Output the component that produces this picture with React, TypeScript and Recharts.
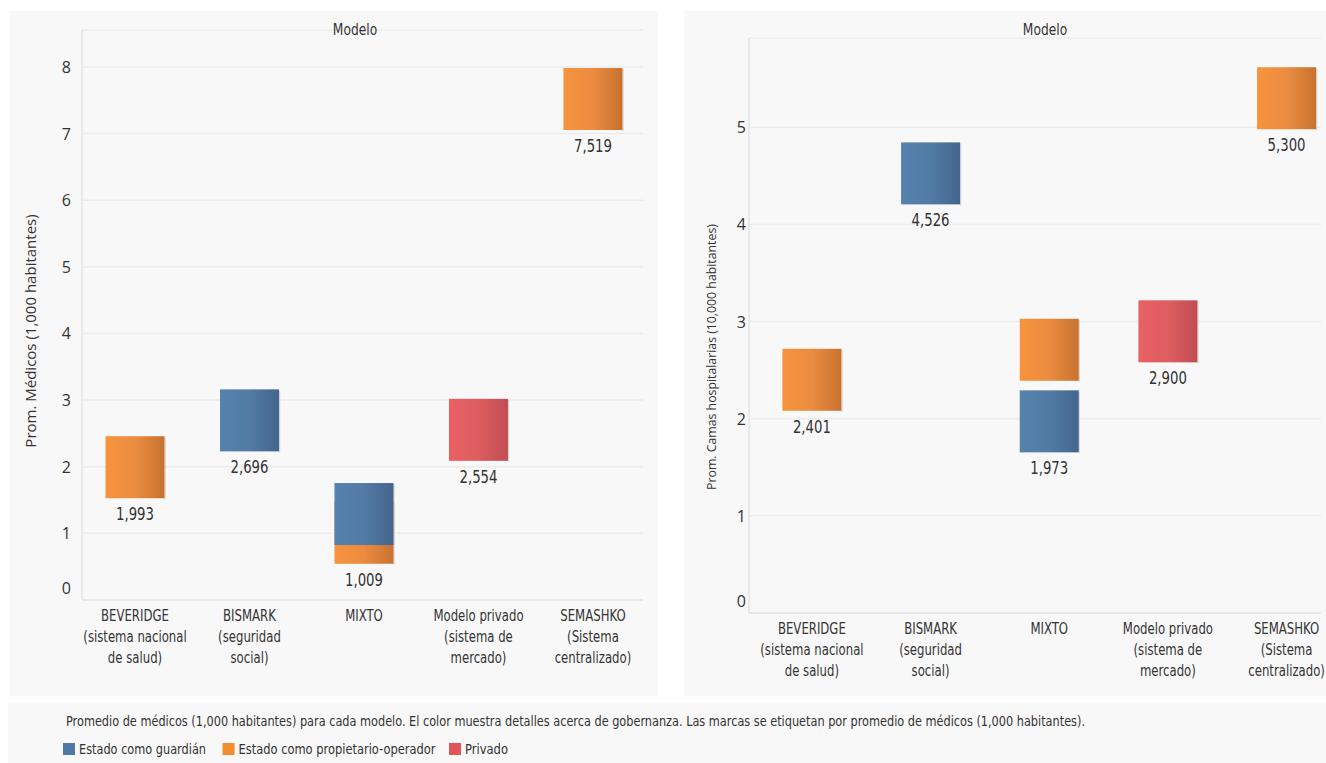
import React from "react";
import { ScatterChart, Scatter, XAxis, YAxis, CartesianGrid } from "recharts";

// categorías (líneas de cada etiqueta del eje X)
const categories = [
  ["BEVERIDGE", "(sistema nacional", "de salud)"],
  ["BISMARK", "(seguridad", "social)"],
  ["MIXTO"],
  ["Modelo privado", "(sistema de", "mercado)"],
  ["SEMASHKO", "(Sistema", "centralizado)"],
];

const seriesNames = ["Estado como guardián", "Estado como propietario-operador", "Privado"];
const seriesColors = ["#4E79A7", "#F28E2B", "#E15759"];

// Prom. Médicos (1,000 habitantes)
const medicosGuardian = [null, 2.696, 1.29, null, null];
const medicosOperador = [1.993, null, 1.009, null, 7.519];
const medicosPrivado = [null, null, null, 2.554, null];
const medicosTicks = [0, 1, 2, 3, 4, 5, 6, 7, 8];

// Prom. Camas hospitalarias (10,000 habitantes)
const camasGuardian = [null, 4.526, 1.973, null, null];
const camasOperador = [2.401, null, 2.71, null, 5.3];
const camasPrivado = [null, null, null, 2.9, null];
const camasTicks = [0, 1, 2, 3, 4, 5];

const NARROW = "'Liberation Sans Narrow', 'DejaVu Sans Condensed', 'Roboto Condensed', sans-serif";
const SANS = "'Open Sans', 'Noto Sans', sans-serif";
const TEXT = "#333333";
const BAR_W = 59;
const BAR_H = 62;

type Values = (number | null)[];
type Pt = { x: number; y: number; label: boolean };

// squeeze text horizontally around its anchor x
const squeeze = (x: number, s: number) => `translate(${x} 0) scale(${s} 1) translate(${-x} 0)`;

// solo la marca más baja de cada categoría lleva etiqueta
function buildPoints(values: Values, all: Values[]): Pt[] {
  const pts: Pt[] = [];
  values.forEach((v, i) => {
    if (v == null) return;
    const lowest = Math.min(...all.map((s) => (s[i] == null ? Infinity : (s[i] as number))));
    pts.push({ x: i, y: v, label: v === lowest });
  });
  return pts;
}

const fmt = (v: number) => v.toFixed(3).replace(".", ",");

const makeShape = (gradId: string) => (props: any) => {
  const { cx, cy, payload } = props;
  if (cx == null || cy == null) return <g />;
  const x0 = cx - BAR_W / 2;
  const y0 = cy - BAR_H / 2;
  return (
    <g>
      <rect x={x0 + BAR_W} y={y0 + 1} width={1.2} height={BAR_H} fill="#d4d4d4" />
      <rect x={x0} y={y0} width={BAR_W} height={BAR_H} fill={`url(#${gradId})`} />
      {payload.label && (
        <text
          x={cx}
          y={cy + 47}
          transform={squeeze(cx, 0.82)}
          textAnchor="middle"
          dominantBaseline="central"
          fontFamily={NARROW}
          fontSize={18}
          fill={TEXT}
        >
          {fmt(payload.y)}
        </text>
      )}
    </g>
  );
};

const XTick = (props: any) => {
  const { x, y, payload } = props;
  const lines = categories[payload.value] || [];
  return (
    <g transform={squeeze(x, 0.84)}>
      {lines.map((l, i) => (
        <text
          key={i}
          x={x}
          y={y + 16 + i * 21}
          textAnchor="middle"
          dominantBaseline="central"
          fontFamily={NARROW}
          fontSize={15.5}
          fill={TEXT}
        >
          {l}
        </text>
      ))}
    </g>
  );
};

const makeYTick = (gap: number, fontSize: number) => (props: any) => {
  const { x, y, payload } = props;
  const lift = payload.value === 0 ? -12 : 0;
  return (
    <text
      x={x - gap}
      y={y + lift}
      textAnchor="end"
      dominantBaseline="central"
      fontFamily={SANS}
      fontSize={fontSize}
      fill={TEXT}
    >
      {payload.value}
    </text>
  );
};

type PanelProps = {
  left: number;
  width: number;
  margin: { top: number; right: number; bottom: number; left: number };
  yAxisWidth: number;
  xAxisHeight: number;
  xDomain: [number, number];
  yDomain: [number, number];
  yTicks: number[];
  tickGap: number;
  tickFont: number;
  guardian: Values;
  operador: Values;
  privado: Values;
  yTitle: string;
  yTitleX: number;
  yTitleY: number;
  yTitleFont: number;
  headerX: number;
};

function Panel(p: PanelProps) {
  const all = [p.guardian, p.operador, p.privado];
  const height = 685;
  return (
    <div style={{ position: "absolute", left: p.left, top: 11, width: p.width, height, background: "#f8f8f8", overflow: "hidden" }}>
      <ScatterChart width={p.width} height={height} margin={p.margin}>
        <CartesianGrid vertical={false} stroke="#ececec" strokeWidth={1.5} />
        <XAxis
          type="number"
          dataKey="x"
          domain={p.xDomain}
          ticks={[0, 1, 2, 3, 4]}
          interval={0}
          allowDataOverflow
          height={p.xAxisHeight}
          tickSize={0}
          tickMargin={0}
          tickLine={false}
          axisLine={{ stroke: "#e4e4e4", strokeWidth: 1.5 }}
          tick={XTick}
        />
        <YAxis
          type="number"
          dataKey="y"
          domain={p.yDomain}
          ticks={p.yTicks}
          interval={0}
          allowDataOverflow
          width={p.yAxisWidth}
          tickSize={0}
          tickMargin={0}
          tickLine={false}
          axisLine={{ stroke: "#e4e4e4", strokeWidth: 1.5 }}
          tick={makeYTick(p.tickGap, p.tickFont)}
        />
        <Scatter data={buildPoints(p.operador, all)} shape={makeShape("gOrange")} isAnimationActive={false} />
        <Scatter data={buildPoints(p.guardian, all)} shape={makeShape("gBlue")} isAnimationActive={false} />
        <Scatter data={buildPoints(p.privado, all)} shape={makeShape("gRed")} isAnimationActive={false} />
      </ScatterChart>
      <svg width={p.width} height={height} style={{ position: "absolute", left: 0, top: 0, pointerEvents: "none" }}>
        <text
          x={p.headerX}
          y={18}
          transform={squeeze(p.headerX, 0.88)}
          textAnchor="middle"
          dominantBaseline="central"
          fontFamily={NARROW}
          fontSize={15.5}
          fill={TEXT}
        >
          Modelo
        </text>
        <text
          x={p.yTitleX}
          y={p.yTitleY}
          transform={`rotate(-90 ${p.yTitleX} ${p.yTitleY})`}
          textAnchor="middle"
          dominantBaseline="central"
          fontFamily={SANS}
          fontSize={p.yTitleFont}
          fill={TEXT}
        >
          {p.yTitle}
        </text>
      </svg>
    </div>
  );
}

export default function App() {
  const legendX = [55, 214.5, 441];
  const legendLen = [127, 197, 43];
  return (
    <div style={{ position: "absolute", left: 0, top: 0, width: 1326, height: 763, background: "#ffffff", overflow: "hidden" }}>
      <svg width={0} height={0} style={{ position: "absolute" }}>
        <defs>
          <linearGradient id="gOrange" x1="0" y1="0" x2="1" y2="0">
            <stop offset="0%" stopColor="#F7933D" />
            <stop offset="50%" stopColor="#EB8C41" />
            <stop offset="100%" stopColor="#C8722F" />
          </linearGradient>
          <linearGradient id="gBlue" x1="0" y1="0" x2="1" y2="0">
            <stop offset="0%" stopColor="#5482AE" />
            <stop offset="50%" stopColor="#527BA4" />
            <stop offset="100%" stopColor="#43658D" />
          </linearGradient>
          <linearGradient id="gRed" x1="0" y1="0" x2="1" y2="0">
            <stop offset="0%" stopColor="#E96163" />
            <stop offset="50%" stopColor="#DD5D60" />
            <stop offset="100%" stopColor="#C14D54" />
          </linearGradient>
        </defs>
      </svg>

      <Panel
        left={10}
        width={648}
        margin={{ top: 19, right: 15, bottom: 0, left: 0 }}
        yAxisWidth={72}
        xAxisHeight={96}
        xDomain={[-0.463, 4.437]}
        yDomain={[0, 8.555]}
        yTicks={medicosTicks}
        tickGap={11}
        tickFont={16}
        guardian={medicosGuardian}
        operador={medicosOperador}
        privado={medicosPrivado}
        yTitle="Prom. Médicos (1,000 habitantes)"
        yTitleX={20}
        yTitleY={320}
        yTitleFont={15}
        headerX={345}
      />

      <Panel
        left={684}
        width={642}
        margin={{ top: 27, right: 5, bottom: 0, left: 0 }}
        yAxisWidth={65}
        xAxisHeight={83}
        xDomain={[-0.53, 4.29]}
        yDomain={[0, 5.92]}
        yTicks={camasTicks}
        tickGap={3}
        tickFont={16}
        guardian={camasGuardian}
        operador={camasOperador}
        privado={camasPrivado}
        yTitle="Prom. Camas hospitalarias (10,000 habitantes)"
        yTitleX={27}
        yTitleY={346}
        yTitleFont={12.3}
        headerX={361}
      />

      <div style={{ position: "absolute", left: 8, top: 703, width: 1318, height: 60, background: "#f8f8f8" }}>
        <svg width={1318} height={60}>
          <text
            x={58}
            y={18}
            dominantBaseline="central"
            fontFamily={NARROW}
            fontSize={14}
            fill={TEXT}
            textLength={1019}
            lengthAdjust="spacingAndGlyphs"
          >
            Promedio de médicos (1,000 habitantes) para cada modelo.  El color muestra detalles acerca de gobernanza.  Las marcas se etiquetan por promedio de médicos (1,000 habitantes).
          </text>
          {seriesNames.map((n, i) => (
            <g key={n}>
              <rect x={legendX[i]} y={40} width={12} height={12} fill={seriesColors[i]} />
              <text
                x={legendX[i] + 16}
                y={46}
                dominantBaseline="central"
                fontFamily={NARROW}
                fontSize={14}
                fill={TEXT}
                textLength={legendLen[i]}
                lengthAdjust="spacingAndGlyphs"
              >
                {n}
              </text>
            </g>
          ))}
        </svg>
      </div>
    </div>
  );
}
